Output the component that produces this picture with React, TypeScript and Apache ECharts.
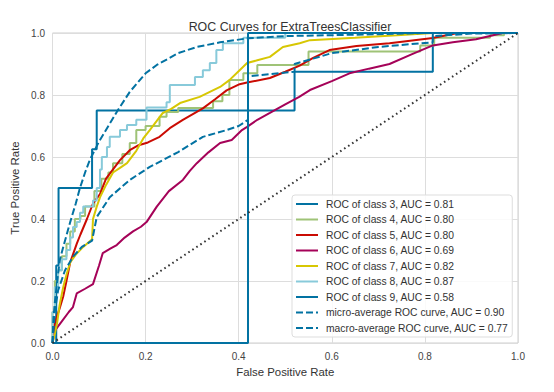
import React, { useEffect, useRef } from 'react';
import * as echarts from 'echarts';

const chartTitle = 'ROC Curves for ExtraTreesClassifier';
const xAxisLabel = 'False Positive Rate';
const yAxisLabel = 'True Positive Rate';
const tickStep = 0.2;

const legendNames = [
  'ROC of class 3, AUC = 0.81',
  'ROC of class 4, AUC = 0.80',
  'ROC of class 5, AUC = 0.80',
  'ROC of class 6, AUC = 0.69',
  'ROC of class 7, AUC = 0.82',
  'ROC of class 8, AUC = 0.87',
  'ROC of class 9, AUC = 0.58',
  'micro-average ROC curve, AUC = 0.90',
  'macro-average ROC curve, AUC = 0.77',
];

const seriesColors = ['#0272a2', '#9fc377', '#ca0b03', '#a50258', '#d7c703', '#88cada', '#0272a2', '#0272a2', '#0272a2'];

// step curves: each point = (fpr where the jump happens, new tpr)
const class3 = [[0, 0], [0.008, 0.25], [0.013, 0.5], [0.085, 0.625], [0.095, 0.75], [0.52, 0.875], [0.817, 1], [1, 1]];
const class9 = [[0, 0], [0.42, 1], [1, 1]];
const class4 = [
  [0, 0], [0, 0.1], [0.005, 0.2], [0.012, 0.235], [0.02, 0.28], [0.03, 0.32], [0.038, 0.36], [0.048, 0.4],
  [0.06, 0.41], [0.07, 0.44], [0.09, 0.49], [0.105, 0.53], [0.12, 0.55], [0.13, 0.58], [0.15, 0.61],
  [0.166, 0.645], [0.18, 0.687], [0.2, 0.7], [0.23, 0.73], [0.245, 0.745], [0.27, 0.758], [0.345, 0.78],
  [0.365, 0.8], [0.38, 0.848], [0.41, 0.87], [0.44, 0.897], [0.55, 0.94], [0.79, 0.96], [0.82, 0.985],
  [0.94, 0.993], [0.97, 1], [1, 1],
];
const class8 = [
  [0, 0], [0, 0.1], [0.005, 0.18], [0.012, 0.235], [0.02, 0.27], [0.03, 0.3], [0.038, 0.34], [0.044, 0.374],
  [0.052, 0.39], [0.059, 0.42], [0.066, 0.44], [0.087, 0.46], [0.095, 0.5], [0.102, 0.56], [0.106, 0.6],
  [0.117, 0.632], [0.123, 0.665], [0.145, 0.687], [0.16, 0.703], [0.18, 0.72], [0.202, 0.76], [0.245, 0.777],
  [0.252, 0.832], [0.306, 0.858], [0.323, 0.88], [0.338, 0.903], [0.352, 0.945], [0.366, 0.967],
  [0.41, 0.985], [0.5, 1], [1, 1],
];
// jagged curves
const class5 = [
  [0, 0], [0.005, 0.065], [0.015, 0.11], [0.023, 0.15], [0.03, 0.2], [0.038, 0.26], [0.045, 0.29], [0.052, 0.32],
  [0.06, 0.35], [0.074, 0.4], [0.087, 0.45], [0.102, 0.48], [0.115, 0.53], [0.13, 0.56], [0.145, 0.59],
  [0.166, 0.622], [0.185, 0.638], [0.205, 0.647], [0.23, 0.665], [0.252, 0.693], [0.28, 0.72], [0.323, 0.757],
  [0.35, 0.787], [0.374, 0.815], [0.402, 0.835], [0.418, 0.84], [0.467, 0.855], [0.5, 0.875], [0.531, 0.895],
  [0.56, 0.92], [0.595, 0.945], [0.653, 0.958], [0.724, 0.967], [0.817, 0.984], [0.87, 1], [1, 1],
];
const class6 = [
  [0, 0], [0.005, 0.04], [0.02, 0.07], [0.035, 0.1], [0.044, 0.116], [0.052, 0.16], [0.07, 0.175], [0.087, 0.19],
  [0.1, 0.25], [0.108, 0.29], [0.125, 0.305], [0.138, 0.316], [0.155, 0.34], [0.173, 0.36], [0.19, 0.375],
  [0.202, 0.39], [0.224, 0.44], [0.25, 0.49], [0.28, 0.526], [0.295, 0.555], [0.31, 0.58], [0.335, 0.615],
  [0.36, 0.645], [0.385, 0.655], [0.407, 0.687], [0.418, 0.697], [0.44, 0.72], [0.467, 0.742], [0.5, 0.77],
  [0.53, 0.794], [0.553, 0.816], [0.6, 0.845], [0.638, 0.87], [0.68, 0.885], [0.724, 0.9], [0.77, 0.93],
  [0.817, 0.96], [0.86, 0.97], [0.91, 0.98], [0.967, 1], [1, 1],
];
const class7 = [
  [0, 0], [0.005, 0.03], [0.01, 0.065], [0.015, 0.12], [0.023, 0.18], [0.03, 0.22], [0.038, 0.26], [0.05, 0.285],
  [0.066, 0.31], [0.085, 0.335], [0.087, 0.4], [0.095, 0.44], [0.102, 0.47], [0.115, 0.51], [0.13, 0.55],
  [0.145, 0.565], [0.16, 0.58], [0.18, 0.62], [0.195, 0.66], [0.209, 0.687], [0.237, 0.742], [0.255, 0.755],
  [0.274, 0.774], [0.316, 0.794], [0.36, 0.826], [0.38, 0.848], [0.402, 0.88], [0.418, 0.903], [0.44, 0.912],
  [0.467, 0.923], [0.495, 0.955], [0.531, 0.967], [0.553, 0.977], [0.65, 0.985], [0.74, 0.993], [0.817, 1], [1, 1],
];
const microAvg = [
  [0, 0], [0.002, 0.08], [0.005, 0.13], [0.01, 0.2], [0.016, 0.27], [0.025, 0.32], [0.038, 0.39], [0.05, 0.45],
  [0.059, 0.5], [0.07, 0.55], [0.08, 0.59], [0.1, 0.65], [0.12, 0.7], [0.14, 0.75], [0.166, 0.81], [0.2, 0.87],
  [0.224, 0.897], [0.27, 0.935], [0.31, 0.955], [0.36, 0.97], [0.42, 0.983], [0.5, 0.99], [0.6, 0.993],
  [0.7, 0.996], [0.8, 1], [1, 1],
];
const macroAvg = [
  [0, 0], [0.005, 0.1], [0.012, 0.17], [0.027, 0.235], [0.045, 0.28], [0.063, 0.31], [0.085, 0.33],
  [0.095, 0.406], [0.123, 0.47], [0.166, 0.526], [0.209, 0.568], [0.27, 0.616], [0.323, 0.665], [0.37, 0.685],
  [0.4, 0.7], [0.42, 0.72], [0.42, 0.86], [0.52, 0.875], [0.52, 0.9], [0.6, 0.935], [0.7, 0.955],
  [0.817, 0.97], [0.817, 0.99], [0.9, 0.998], [1, 1],
];
const chanceLine = [[0, 0], [1, 1]];

const FONT = 'Liberation Sans, Arial, sans-serif';

export default function App() {
  const ref = useRef<HTMLDivElement>(null);
  useEffect(() => {
    if (!ref.current) return;
    const chart = echarts.init(ref.current, undefined, { renderer: 'svg' });
    const curves = [
      { data: class3, step: 'end' },
      { data: class4, step: 'end' },
      { data: class5 },
      { data: class6 },
      { data: class7 },
      { data: class8, step: 'end' },
      { data: class9, step: 'end' },
      { data: microAvg, dashed: true },
      { data: macroAvg, dashed: true },
    ];
    const series: any[] = curves.map((c: any, i) => ({
      name: legendNames[i],
      type: 'line',
      data: c.data,
      step: c.step || false,
      symbol: 'none',
      showSymbol: false,
      color: seriesColors[i],
      lineStyle: { width: 2, color: seriesColors[i], type: c.dashed ? [7, 3] : 'solid' },
      z: 2 + i,
    }));
    series.push({
      name: 'chance',
      type: 'line',
      data: chanceLine,
      symbol: 'none',
      showSymbol: false,
      lineStyle: { width: 2, color: '#333333', type: [1.6, 3.2] },
      z: 20,
    });
    chart.setOption({
      animation: false,
      backgroundColor: '#ffffff',
      textStyle: { fontFamily: FONT },
      grid: {
        left: 52.5, right: 36, top: 33, bottom: 49,
        show: true, borderColor: '#cfcfcf', borderWidth: 1, backgroundColor: '#ffffff',
      },
      title: {
        text: chartTitle,
        left: 285,
        textAlign: 'center',
        top: 16,
        textStyle: { fontSize: 12.4, fontWeight: 'normal', color: '#333333', fontFamily: FONT },
      },
      xAxis: {
        type: 'value', min: 0, max: 1, interval: tickStep,
        name: xAxisLabel, nameLocation: 'middle', nameGap: 23,
        nameTextStyle: { fontSize: 11.4, color: '#333333', fontFamily: FONT },
        axisLine: { show: false }, axisTick: { show: false },
        axisLabel: { fontSize: 10, color: '#444444', margin: 8, fontFamily: FONT, formatter: (v: number) => v.toFixed(1) },
        splitLine: { show: true, lineStyle: { color: '#dddddd', width: 1 } },
      },
      yAxis: {
        type: 'value', min: 0, max: 1, interval: tickStep,
        name: yAxisLabel, nameLocation: 'middle', nameGap: 25,
        nameTextStyle: { fontSize: 11.4, color: '#333333', fontFamily: FONT },
        axisLine: { show: false }, axisTick: { show: false },
        axisLabel: { fontSize: 10, color: '#444444', margin: 7.5, fontFamily: FONT, formatter: (v: number) => v.toFixed(1) },
        splitLine: { show: true, lineStyle: { color: '#dddddd', width: 1 } },
      },
      legend: {
        data: legendNames,
        orient: 'vertical',
        left: 292,
        top: 195,
        padding: [4, 4, 4, 3],
        itemWidth: 22,
        itemHeight: 10,
        itemGap: 5.5,
        itemStyle: { color: 'rgba(0,0,0,0)', borderWidth: 0, opacity: 0 },
        backgroundColor: 'rgba(255,255,255,0.85)',
        borderColor: '#dddddd',
        borderWidth: 1,
        borderRadius: 3,
        textStyle: { fontSize: 10.3, color: '#333333', fontFamily: FONT, padding: [0, 0, 0, 3] },
      },
      series,
    });
    return () => chart.dispose();
  }, []);
  return <div ref={ref} style={{ position: 'fixed', left: 0, top: 0, width: 554, height: 392 }} />;
}
